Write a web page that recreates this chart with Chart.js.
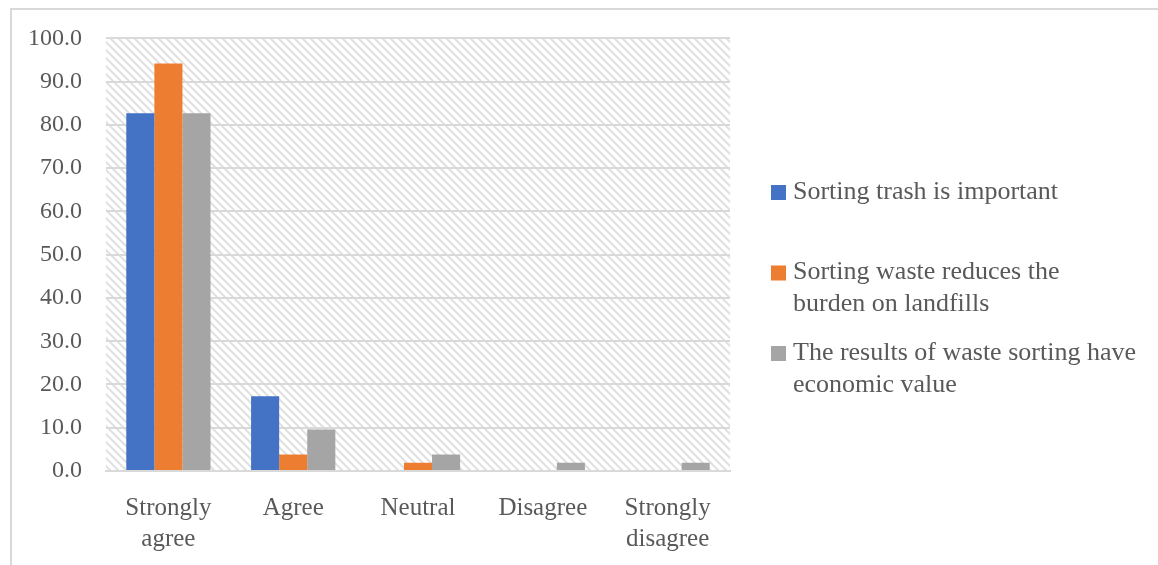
<!DOCTYPE html>
<html>
<head>
<meta charset="utf-8">
<script src="https://cdn.jsdelivr.net/npm/chart.js@4/dist/chart.umd.min.js"></script>
<style>
  html, body { margin: 0; padding: 0; background: #ffffff; }
  #wrap { position: relative; width: 1158px; height: 565px; }
  #frame { position: absolute; left: 10px; top: 8px; width: 1160px; height: 600px;
           border-left: 2px solid #d9d9d9; border-top: 2px solid #d9d9d9; box-sizing: border-box; }
  canvas { position: absolute; left: 0; top: 0; }
</style>
</head>
<body>
<div id="wrap">
  <div id="frame"></div>
  <canvas id="chart" width="1158" height="565"></canvas>
</div>
<script>
// Response categories (x axis)
const categories = [
  ['Strongly', 'agree'],
  'Agree',
  'Neutral',
  'Disagree',
  ['Strongly', 'disagree']
];

// Series labels (legend lines)
const seriesLabels = [
  ['Sorting trash is important'],
  ['Sorting waste reduces the', 'burden on landfills'],
  ['The results of waste sorting have', 'economic value']
];

// Percentages per category
const trashImportant   = [82.7, 17.3, 0.0, 0.0, 0.0];
const reducesLandfill  = [94.2, 3.8, 1.9, 0.0, 0.0];
const economicValue    = [82.7, 9.6, 3.8, 1.9, 1.9];

// Y axis ticks
const yTicks = [0, 10, 20, 30, 40, 50, 60, 70, 80, 90, 100];

const colors = ['#4472C4', '#ED7D31', '#A5A5A5'];
const textColor = '#595959';
const fontFamily = '"Liberation Serif", "DejaVu Serif", serif';

// Diagonal hatch used as the plot-area fill
function makeHatch() {
  const c = document.createElement('canvas');
  c.width = 8; c.height = 8;
  const g = c.getContext('2d');
  g.fillStyle = '#ffffff';
  g.fillRect(0, 0, 8, 8);
  g.strokeStyle = '#e0e0e0';
  g.lineWidth = 2;
  g.beginPath();
  g.moveTo(-2, -2); g.lineTo(10, 10);
  g.moveTo(-2, 6); g.lineTo(2, 10);
  g.moveTo(6, -2); g.lineTo(10, 2);
  g.stroke();
  return g.createPattern(c, 'repeat');
}

const plotBackground = {
  id: 'plotBackground',
  beforeDraw(chart) {
    const { ctx, chartArea: a } = chart;
    ctx.save();
    ctx.fillStyle = makeHatch();
    ctx.fillRect(a.left, a.top, a.right - a.left, a.bottom - a.top);
    ctx.restore();
  }
};

// Legend to the right of the plot, one evenly spaced slot per series
const sideLegend = {
  id: 'sideLegend',
  afterDraw(chart) {
    const { ctx, chartArea: a } = chart;
    const x0 = a.right + 41;
    const y0 = 192;
    const slot = 80.5;
    const lineH = 32;
    ctx.save();
    ctx.font = '26px ' + fontFamily;
    ctx.textBaseline = 'middle';
    ctx.textAlign = 'left';
    chart.data.datasets.forEach((ds, i) => {
      const y = y0 + i * slot;
      ctx.fillStyle = ds.backgroundColor;
      ctx.fillRect(x0, y - 7, 15, 15);
      ctx.fillStyle = textColor;
      const lines = seriesLabels[i];
      lines.forEach((ln, j) => ctx.fillText(ln, x0 + 22, y + j * lineH));
    });
    ctx.restore();
  }
};

new Chart(document.getElementById('chart'), {
  type: 'bar',
  data: {
    labels: categories,
    datasets: [
      { label: seriesLabels[0].join(' '), data: trashImportant, backgroundColor: colors[0] },
      { label: seriesLabels[1].join(' '), data: reducesLandfill, backgroundColor: colors[1] },
      { label: seriesLabels[2].join(' '), data: economicValue, backgroundColor: colors[2] }
    ]
  },
  options: {
    responsive: false,
    animation: false,
    layout: { padding: { left: 0, right: 428, top: 38, bottom: 0 } },
    datasets: { bar: { categoryPercentage: 0.675, barPercentage: 1.0 } },
    plugins: {
      legend: { display: false },
      tooltip: { enabled: false }
    },
    scales: {
      x: {
        grid: { display: false, drawTicks: false },
        border: { color: '#d9d9d9', width: 2 },
        ticks: {
          color: textColor,
          font: { family: fontFamily, size: 25, lineHeight: 1.25 },
          padding: 22,
          maxRotation: 0,
          autoSkip: false
        },
        afterFit(scale) { scale.height = 94; }
      },
      y: {
        min: 0,
        max: 100,
        afterBuildTicks(scale) { scale.ticks = yTicks.map(v => ({ value: v })); },
        grid: { color: '#d9d9d9', lineWidth: 2, drawTicks: false },
        border: { display: false },
        ticks: {
          color: textColor,
          font: { family: fontFamily, size: 24 },
          padding: 24,
          callback: v => v.toFixed(1)
        },
        afterFit(scale) { scale.width = 106; }
      }
    }
  },
  plugins: [plotBackground, sideLegend]
});
</script>
</body>
</html>
